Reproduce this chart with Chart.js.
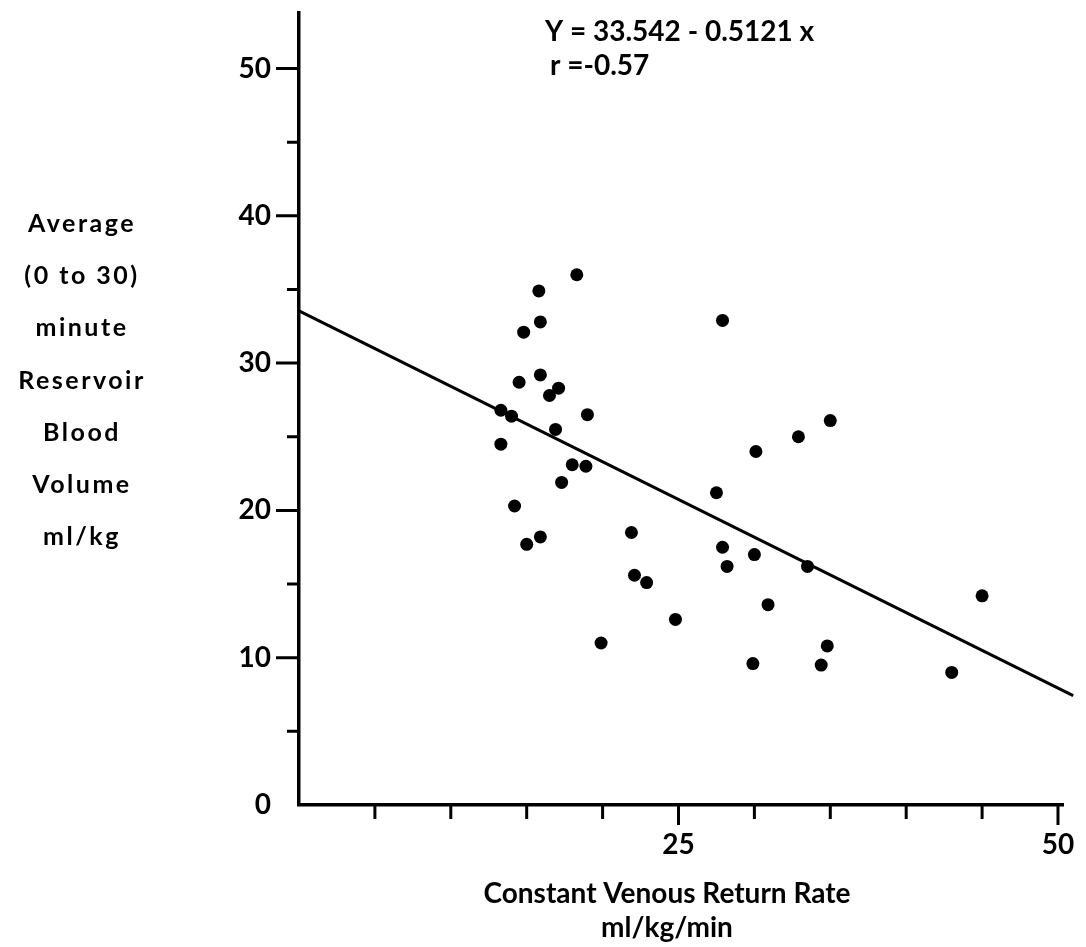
<!DOCTYPE html>
<html>
<head>
<meta charset="utf-8">
<title>Reservoir Blood Volume vs Venous Return Rate</title>
<script src="https://cdn.jsdelivr.net/npm/chart.js@4.4.1/dist/chart.umd.min.js"></script>
<style>
  html, body { margin: 0; padding: 0; background: #fff; }
  canvas { display: block; }
</style>
</head>
<body>
<canvas id="chart" width="1086" height="947"></canvas>
<script>
// constant venous return rate, ml/kg/min (one value per dog)
const returnRate = [
  18.3, 15.8, 15.9, 14.8, 15.9, 14.5, 17.1, 16.5, 13.3, 14.0,
  19.0, 16.9, 13.3, 18.0, 18.9, 17.3, 14.2, 15.9, 15.0, 21.9,
  22.1, 22.9, 24.8, 19.9, 27.5, 27.9, 27.9, 28.2, 30.1, 30.0,
  29.9, 30.9, 32.9, 33.5, 35.0, 34.8, 34.4, 43.0, 45.0
];
// average (0 to 30) minute reservoir blood volume, ml/kg
const bloodVolume = [
  36.0, 34.9, 32.8, 32.1, 29.2, 28.7, 28.3, 27.8, 26.8, 26.4,
  26.5, 25.5, 24.5, 23.1, 23.0, 21.9, 20.3, 18.2, 17.7, 18.5,
  15.6, 15.1, 12.6, 11.0, 21.2, 32.9, 17.5, 16.2, 24.0, 17.0,
  9.6, 13.6, 25.0, 16.2, 26.1, 10.8, 9.5, 9.0, 14.2
];

// fitted line printed on the figure
const intercept = 33.542;
const slope = -0.5121;
const fitRange = [0, 51];

const xTickLabels = [25, 50];
const yTickLabels = [0, 10, 20, 30, 40, 50];
const equationText = ['Y = 33.542 - 0.5121 x', 'r =-0.57'];
const yTitleLines = ['Average', '(0 to 30)', 'minute', 'Reservoir', 'Blood', 'Volume', 'ml/kg'];
const xTitleLines = ['Constant Venous Return Rate', 'ml/kg/min'];

const FONT = 'Lato';

// short ticks for every step, long ones where there is a label
const tickMarks = {
  id: 'tickMarks',
  afterDraw(chart) {
    const ctx = chart.ctx;
    const { x, y } = chart.scales;
    ctx.save();
    ctx.strokeStyle = '#000';
    ctx.lineWidth = 3;
    ctx.beginPath();
    y.ticks.forEach(t => {
      if (t.value === 0) return;
      const py = y.getPixelForValue(t.value);
      const len = yTickLabels.includes(t.value) ? 23 : 12;
      ctx.moveTo(y.right - len, py);
      ctx.lineTo(y.right, py);
    });
    x.ticks.forEach(t => {
      if (t.value === 0) return;
      const px = x.getPixelForValue(t.value);
      const len = xTickLabels.includes(t.value) ? 20 : 14;
      ctx.moveTo(px, x.top);
      ctx.lineTo(px, x.top + len);
    });
    ctx.stroke();
    ctx.restore();
  }
};

// stacked y title, two-line x title and the regression text
const labels = {
  id: 'labels',
  afterDraw(chart) {
    const ctx = chart.ctx;
    ctx.save();
    ctx.fillStyle = '#000';
    ctx.textBaseline = 'middle';
    ctx.textAlign = 'center';
    ctx.font = 'bold 25px ' + FONT;
    ctx.letterSpacing = '2.5px';
    yTitleLines.forEach((s, i) => ctx.fillText(s, 82, 224 + i * 52.2));
    ctx.letterSpacing = '0px';
    ctx.font = 'bold 28px ' + FONT;
    xTitleLines.forEach((s, i) => ctx.fillText(s, 667, 894 + i * 34));
    ctx.textAlign = 'left';
    equationText.forEach((s, i) => ctx.fillText(s, i ? 550 : 545, 32 + i * 34));
    ctx.restore();
  }
};

const tickFont = { family: FONT, size: 28, weight: 'bold' };

new Chart(document.getElementById('chart'), {
  type: 'scatter',
  data: {
    datasets: [
      {
        label: 'Dogs',
        data: returnRate.map((x, i) => ({ x, y: bloodVolume[i] })),
        pointRadius: 6.5,
        pointHoverRadius: 6.5,
        pointBackgroundColor: '#000',
        pointBorderWidth: 0
      },
      {
        type: 'line',
        label: 'Fit',
        data: fitRange.map(x => ({ x, y: intercept + slope * x })),
        borderColor: '#000',
        borderWidth: 3,
        pointRadius: 0,
        fill: false,
        clip: false
      }
    ]
  },
  options: {
    responsive: false,
    devicePixelRatio: 1,
    animation: false,
    layout: { padding: { left: 0, top: 13, right: 23, bottom: 0 } },
    plugins: { legend: { display: false }, tooltip: { enabled: false } },
    scales: {
      x: {
        type: 'linear',
        min: 0,
        max: 50.33,
        afterFit(s) { s.height = 142; s.paddingLeft = 0; s.paddingRight = 0; },
        border: { color: '#000', width: 3.5 },
        grid: { drawOnChartArea: false, tickLength: 20, tickColor: 'rgba(0,0,0,0)' },
        ticks: {
          stepSize: 5, includeBounds: false, autoSkip: false, maxRotation: 0,
          padding: 3, color: '#000', font: tickFont,
          callback: v => xTickLabels.includes(v) ? String(v) : ''
        }
      },
      y: {
        type: 'linear',
        min: 0,
        max: 53.77,
        afterFit(s) { s.width = 299; s.paddingTop = 0; s.paddingBottom = 0; },
        border: { color: '#000', width: 3.5 },
        grid: { drawOnChartArea: false, tickLength: 23, tickColor: 'rgba(0,0,0,0)' },
        ticks: {
          stepSize: 5, includeBounds: false, autoSkip: false,
          padding: 5, color: '#000', font: tickFont,
          callback: v => yTickLabels.includes(v) ? String(v) : ''
        }
      }
    }
  },
  plugins: [tickMarks, labels]
});
</script>
</body>
</html>
